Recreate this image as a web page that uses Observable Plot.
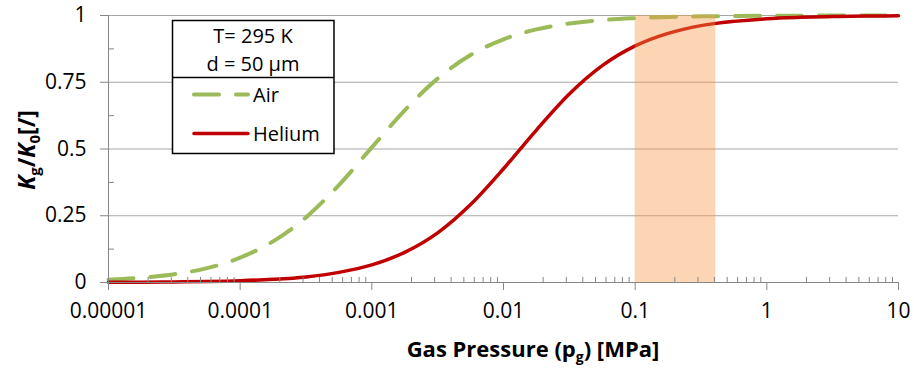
<!DOCTYPE html>
<html><head><meta charset="utf-8">
<script src="https://cdn.jsdelivr.net/npm/d3@7"></script>
<script src="https://cdn.jsdelivr.net/npm/@observablehq/plot@0.6"></script>
<style>
html,body{margin:0;padding:0;background:#fff;}
#chart{width:914px;height:370px;}
</style></head><body><div id="chart"></div>
<script>
// ---- data ----
const pressure = [1e-5, 1.778e-5, 3.162e-5, 5.623e-5, 1e-4, 1.778e-4, 3.162e-4, 5.623e-4,
  1e-3, 1.778e-3, 3.162e-3, 5.623e-3, 0.01, 0.01778, 0.03162, 0.05623,
  0.1, 0.1778, 0.3162, 0.5623, 1, 1.778, 3.162, 5.623, 10];
const airK = [0.010, 0.018, 0.031, 0.054, 0.093, 0.154, 0.244, 0.365,
  0.506, 0.645, 0.764, 0.852, 0.911, 0.948, 0.970, 0.983,
  0.990, 0.9945, 0.997, 0.998, 0.999, 0.9995, 0.9997, 0.9998, 0.9999];
const heliumK = [0.0007, 0.0012, 0.0021, 0.0038, 0.0067, 0.012, 0.021, 0.038,
  0.066, 0.113, 0.186, 0.292, 0.426, 0.571, 0.706, 0.812,
  0.886, 0.933, 0.962, 0.978, 0.988, 0.993, 0.996, 0.998, 0.9988];
const seriesNames = ["Air", "Helium"];
const seriesColors = ["#9BBB59", "#C00000"];
const bandRange = [0.1, 0.41];
const yMajor = [0, 0.25, 0.5, 0.75, 1];
const yMajorLabels = ["0", "0.25", "0.5", "0.75", "1"];
const yMinor = [0.125, 0.375, 0.625, 0.875];
const xMajor = [1e-5, 1e-4, 1e-3, 1e-2, 1e-1, 1, 10];
const xMajorLabels = ["0.00001", "0.0001", "0.001", "0.01", "0.1", "1", "10"];
const xMinorMultipliers = [2, 3, 4, 5, 6, 7, 8, 9];
const infoLines = ["T= 295 K", "d = 50 \u03BCm"];

// ---- build ----
const airData = pressure.map((p, i) => ({p, k: airK[i]}));
const heData = pressure.map((p, i) => ({p, k: heliumK[i]}));
const xMinor = xMajor.slice(0, -1).flatMap(d => xMinorMultipliers.map(m => m * d));
const band = [{x1: bandRange[0], x2: bandRange[1], y1: 0, y2: 1}];
const FONT = "'Open Sans', sans-serif";
const axisColor = "#868686";
const TICK_FS = 21;

const chart = Plot.plot({
  width: 914, height: 370,
  marginLeft: 108, marginRight: 16, marginTop: 15, marginBottom: 88,
  style: {fontFamily: FONT, fontSize: TICK_FS + "px", background: "#fff", color: "#000"},
  x: {type: "log", domain: [1e-5, 10], label: null},
  y: {domain: [0, 1], label: null},
  marks: [
    Plot.ruleY(yMajor.slice(1), {stroke: "#a6a6a6", strokeWidth: 1}),
    Plot.line(airData, {x: "p", y: "k", stroke: seriesColors[0], strokeWidth: 4,
      strokeDasharray: "25,17", strokeLinecap: "round", curve: "monotone-x"}),
    Plot.line(heData, {x: "p", y: "k", stroke: seriesColors[1], strokeWidth: 3.5, curve: "monotone-x"}),
    Plot.rect(band, {x1: "x1", x2: "x2", y1: "y1", y2: "y2", fill: "#F79646", fillOpacity: 0.4}),
    Plot.ruleX([1e-5], {stroke: axisColor, strokeWidth: 1}),
    Plot.ruleY([0], {stroke: axisColor, strokeWidth: 1}),
    Plot.axisY(yMajor, {tickSize: 8, tickPadding: 14, stroke: axisColor, fill: "#000",
      tickFormat: d => yMajorLabels[yMajor.indexOf(d)], label: null, fontSize: TICK_FS}),
    Plot.axisY(yMinor, {tickSize: 6, dx: 6, stroke: axisColor, tickFormat: () => "", label: null}),
    Plot.axisX(xMajor, {tickSize: 8, tickPadding: 13, stroke: axisColor, fill: "#000",
      tickFormat: d => xMajorLabels[xMajor.indexOf(d)], label: null, fontSize: TICK_FS}),
    Plot.axisX(xMinor, {tickSize: 5, dy: -5, stroke: axisColor, tickFormat: () => "", label: null})
  ]
});
document.getElementById("chart").appendChild(chart);

const svg = d3.select(chart);

// y-axis title
const yl = svg.append("text")
  .attr("transform", "translate(35,150) rotate(-90)")
  .attr("text-anchor", "middle").attr("font-weight", "bold")
  .attr("font-size", 23).attr("fill", "#000").attr("font-family", FONT);
yl.append("tspan").attr("font-style", "italic").text("K");
yl.append("tspan").attr("font-size", 15).attr("dy", 5).text("g");
yl.append("tspan").attr("dy", -5).text("/");
yl.append("tspan").attr("font-style", "italic").text("K");
yl.append("tspan").attr("font-size", 15).attr("dy", 5).text("0");
yl.append("tspan").attr("dy", -5).text("[/]");

// x-axis title
const xl = svg.append("text")
  .attr("x", 533).attr("y", 357)
  .attr("text-anchor", "middle").attr("font-weight", "bold")
  .attr("font-size", 22).attr("fill", "#000").attr("font-family", FONT);
xl.append("tspan").text("Gas Pressure (p");
xl.append("tspan").attr("font-size", 14).attr("dy", 5).text("g");
xl.append("tspan").attr("dy", -5).text(") [MPa]");

// legend box
const lg = svg.append("g").attr("font-family", FONT).attr("font-size", 20);
lg.append("rect").attr("x", 172.5).attr("y", 20.5).attr("width", 161.5).attr("height", 133)
  .attr("fill", "#fff").attr("stroke", "#000").attr("stroke-width", 1.5);
lg.append("line").attr("x1", 172.5).attr("x2", 334).attr("y1", 77.5).attr("y2", 77.5)
  .attr("stroke", "#000").attr("stroke-width", 1.5);
infoLines.forEach((t, i) => lg.append("text").attr("x", 253).attr("y", 43 + i * 28)
  .attr("text-anchor", "middle").attr("fill", "#000").text(t));
seriesNames.forEach((name, i) => {
  const yy = 94.5 + i * 39;
  lg.append("line").attr("x1", 194).attr("x2", 248).attr("y1", yy).attr("y2", yy)
    .attr("stroke", seriesColors[i]).attr("stroke-width", i === 0 ? 4 : 3.5)
    .attr("stroke-linecap", "round")
    .attr("stroke-dasharray", i === 0 ? "25,17" : null);
  lg.append("text").attr("x", 253).attr("y", yy + 7).attr("text-anchor", "start")
    .attr("fill", "#000").text(name);
});
</script></body></html>
